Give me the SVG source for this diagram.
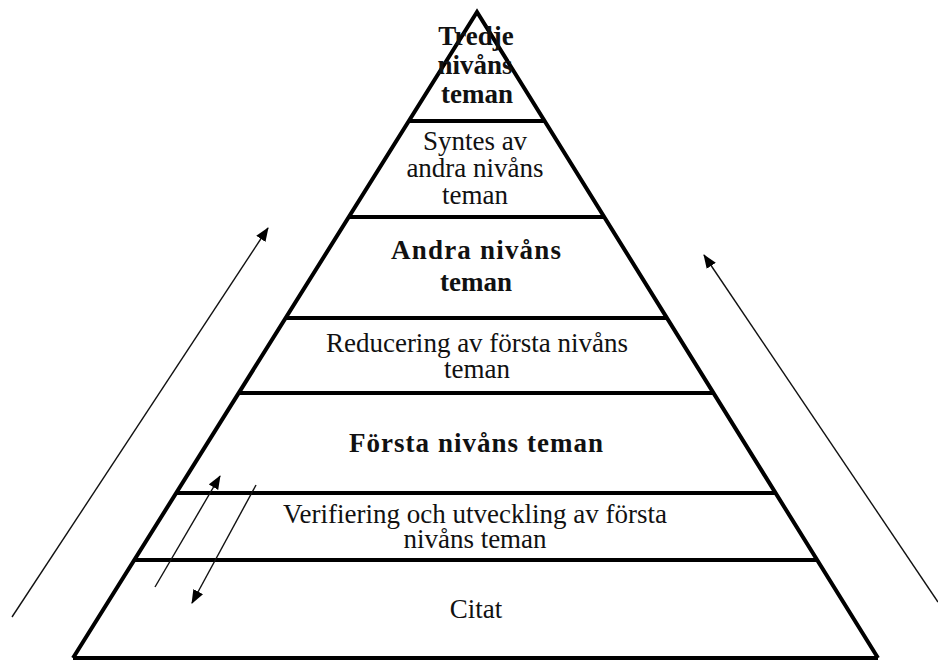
<svg xmlns="http://www.w3.org/2000/svg" width="938" height="661" viewBox="0 0 938 661">
<defs>
<style>
.edge{stroke:#000;stroke-width:4;fill:none;stroke-linejoin:miter}
.sep{stroke:#000;stroke-width:4}
.arr{stroke:#111;stroke-width:1.4;fill:none}
.t{font-family:"Liberation Serif","Times New Roman",serif;font-size:27px;fill:#111;text-anchor:middle}
.b{font-weight:bold}
</style>
<marker id="ah" markerUnits="userSpaceOnUse" markerWidth="14" markerHeight="12" refX="13" refY="5.5" orient="auto">
<path d="M0,0 L14,5.5 L0,11 z" fill="#000"/>
</marker>
</defs>
<rect width="938" height="661" fill="#fff"/>
<g id="pyramid">
<path class="edge" d="M73,658 L477,12 L878,658"/>
<line class="sep" x1="73" y1="658" x2="878" y2="658" stroke-width="3"/>
</g>
<g id="level-tredje">
<line class="sep" x1="409" y1="121" x2="545" y2="121"/>
<text class="t b" x="476" y="45">Tredje</text>
<text class="t b" x="475" y="74">nivåns</text>
<text class="t b" x="477" y="103">teman</text>
</g>
<g id="level-syntes">
<line class="sep" x1="349" y1="217" x2="604" y2="217"/>
<text class="t" x="475" y="150">Syntes av</text>
<text class="t" x="475" y="177">andra nivåns</text>
<text class="t" x="475" y="204">teman</text>
</g>
<g id="level-andra">
<line class="sep" x1="286" y1="318" x2="667" y2="318"/>
<text class="t b" x="476" y="259" textLength="170" lengthAdjust="spacing">Andra nivåns</text>
<text class="t b" x="476" y="291">teman</text>
</g>
<g id="level-reducering">
<line class="sep" x1="239" y1="393" x2="713" y2="393"/>
<text class="t" x="477" y="352">Reducering av första nivåns</text>
<text class="t" x="477" y="378">teman</text>
</g>
<g id="level-forsta">
<line class="sep" x1="177" y1="493" x2="775" y2="493"/>
<text class="t b" x="476" y="452" textLength="254" lengthAdjust="spacing">Första nivåns teman</text>
</g>
<g id="level-verifiering">
<line class="sep" x1="135" y1="560" x2="817" y2="560"/>
<text class="t" x="475" y="523">Verifiering och utveckling av första</text>
<text class="t" x="475" y="548">nivåns teman</text>
</g>
<g id="level-citat">
<text class="t" x="476" y="618">Citat</text>
</g>
<g id="connectors">
<line class="arr" x1="12" y1="617" x2="268" y2="228" marker-end="url(#ah)"/>
<line class="arr" x1="938" y1="602" x2="704" y2="255" marker-end="url(#ah)"/>
<line class="arr" x1="155" y1="587" x2="220" y2="476" marker-end="url(#ah)"/>
<line class="arr" x1="256" y1="485" x2="192" y2="603" marker-end="url(#ah)"/>
</g>
</svg>
